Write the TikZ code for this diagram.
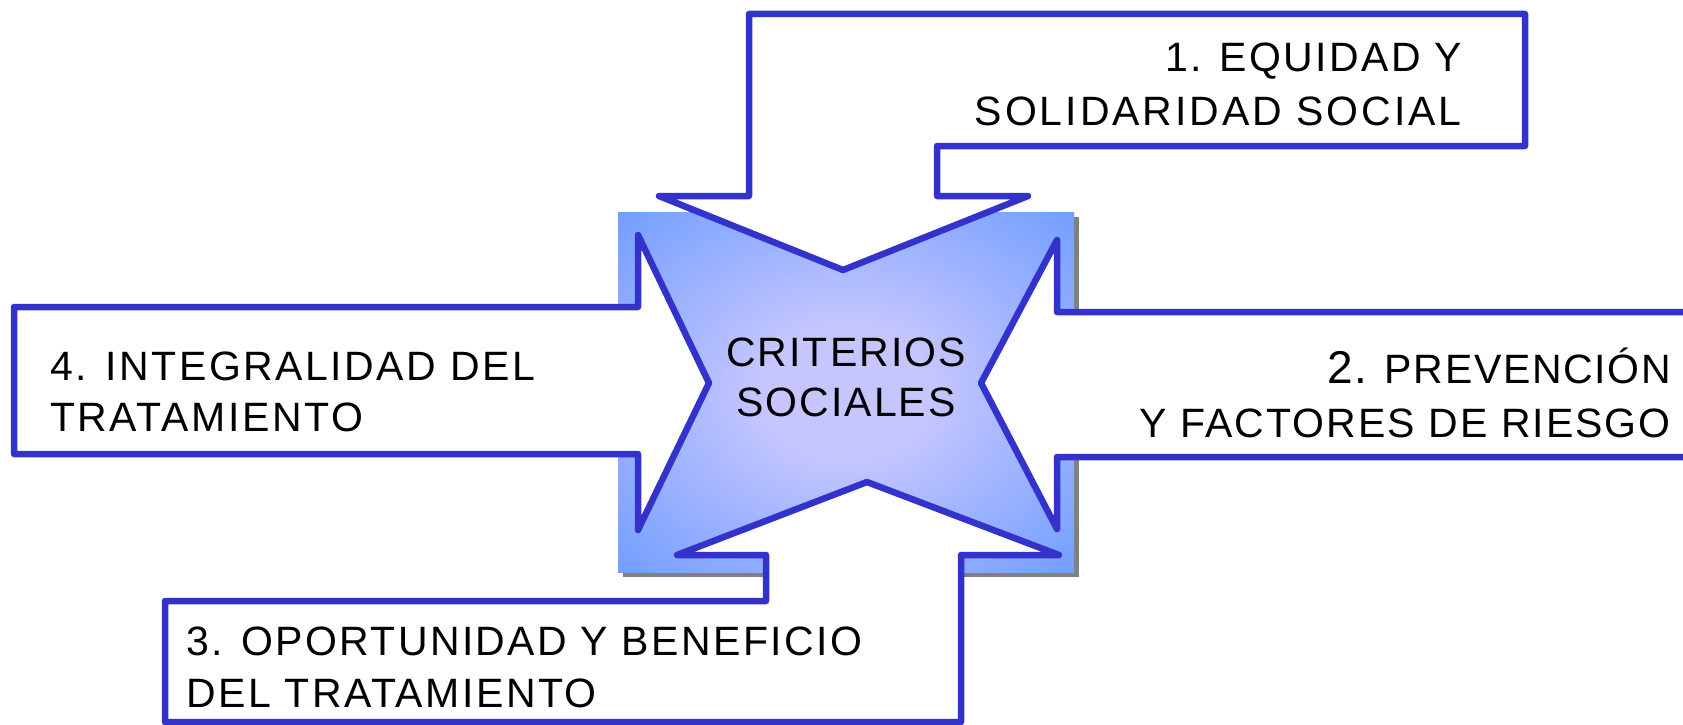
\documentclass[tikz,border=0pt]{standalone}
\usepackage{fontspec}
\setmainfont{Liberation Sans}[LetterSpace=5]
\definecolor{arrowblue}{RGB}{51,51,204}
\definecolor{sqedge}{RGB}{102,153,255}
\definecolor{sqcenter}{RGB}{198,198,255}
\definecolor{shadowgray}{RGB}{128,128,128}
\pgfdeclareradialshading{critshade}{\pgfpoint{0bp}{0bp}}{color(0bp)=(sqcenter); color(9bp)=(sqcenter); color(39bp)=(sqedge); color(100bp)=(sqedge)}
\begin{document}
\begin{tikzpicture}[x=1pt,y=-1pt,
  arrowshape/.style={draw=arrowblue, fill=white, line width=6.5pt, line join=round},
  lbl/.style={inner sep=0pt, font=\fontsize{41}{50}\selectfont\addfontfeature{LetterSpace=#1}},
  lbl/.default=5]
\useasboundingbox (0,0) rectangle (1683,725);
% central square with shadow
\fill[shadowgray] (623,217) rectangle (1079,577);
\shade[shading=critshade] (618,212) rectangle (1074,572);
% arrow 1 (top)
\draw[arrowshape] (749,14) -- (1525,14) -- (1525,146) -- (937,146) -- (937,196) -- (1028,196) -- (843,270) -- (659,196) -- (749,196) -- cycle;
% arrow 2 (right)
\draw[arrowshape] (1057,240) -- (981,383) -- (1057,529) -- (1057,457) -- (1700,457) -- (1700,312) -- (1057,312) -- cycle;
% arrow 4 (left)
\draw[arrowshape] (14,307) -- (638,307) -- (638,235) -- (709,383) -- (638,530) -- (638,454) -- (14,454) -- cycle;
% arrow 3 (bottom)
\draw[arrowshape] (867,482) -- (1059,555) -- (961,555) -- (961,722) -- (165,722) -- (165,601) -- (766,601) -- (766,555) -- (677,555) -- cycle;
% labels
\node[lbl=5.7, anchor=base east] (t1a) at (1462,71) {1. EQUIDAD Y};
\node[lbl=7.2, anchor=base east] (t1b) at (1462,125) {SOLIDARIDAD SOCIAL};
\node[lbl=4, anchor=base east] (t2a) at (1671,383) {{\fontsize{46}{50}\selectfont 2.} PREVENCIÓN};
\node[lbl=5, anchor=base east] (t2b) at (1671,437) {Y FACTORES DE RIESGO};
\node[lbl=5, anchor=base] (c1) at (846,366) {CRITERIOS};
\node[lbl=5, anchor=base] (c2) at (846,416) {SOCIALES};
\node[lbl=6.2, anchor=base west] (t4a) at (50,380) {4. INTEGRALIDAD DEL};
\node[lbl=6.3, anchor=base west] (t4b) at (50,431) {TRATAMIENTO};
\node[lbl=5.8, anchor=base west] (t3a) at (186,655) {3. OPORTUNIDAD Y BENEFICIO};
\node[lbl=6.1, anchor=base west] (t3b) at (186,707) {DEL TRATAMIENTO};
\end{tikzpicture}
\end{document}
